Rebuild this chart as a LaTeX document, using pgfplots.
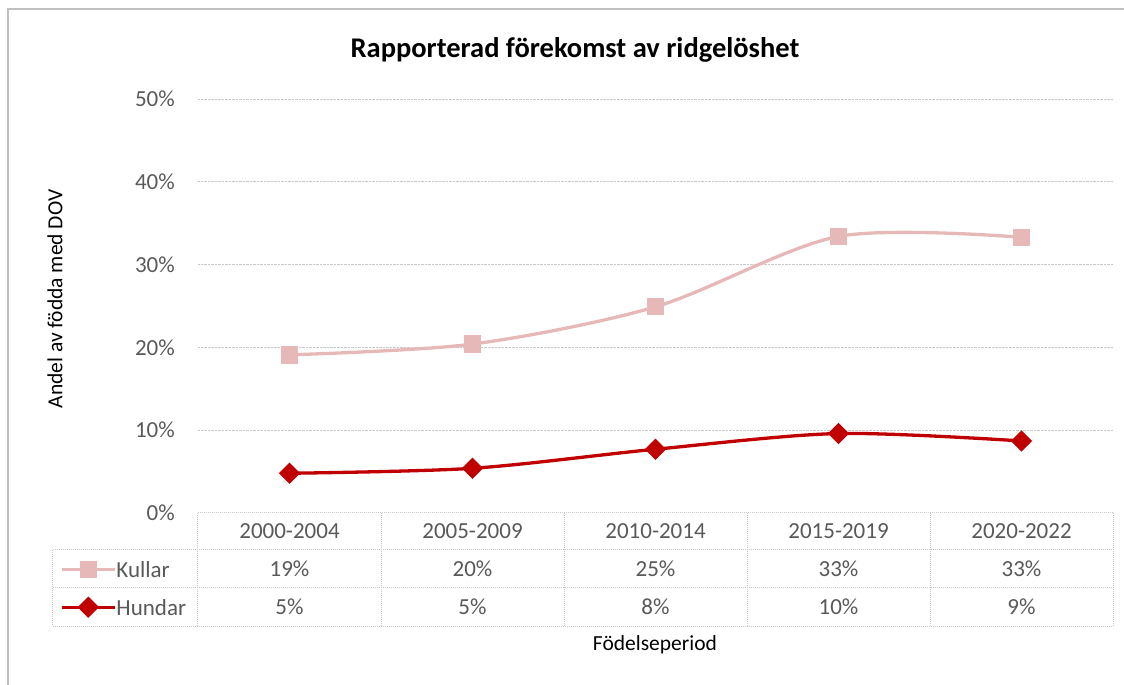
\documentclass[border=0pt]{standalone}
\usepackage{pgfplots}
\pgfplotsset{compat=1.18}
\usepackage{fontspec}
\setmainfont{Carlito}
\definecolor{kullar}{HTML}{E6B9B8}
\definecolor{hundar}{HTML}{C00000}
\definecolor{txt}{HTML}{595959}
\definecolor{gridc}{HTML}{C8C8C8}
\definecolor{frame}{HTML}{C0C0C0}
\newcommand{\tickfont}{\fontsize{23}{27}\selectfont}
\newcommand{\labfont}{\fontsize{21.5}{25}\selectfont}
\newcommand{\titlefont}{\fontsize{28.5}{33}\selectfont\bfseries}
\begin{document}
\begin{tikzpicture}[x=1pt,y=1pt]
% canvas, origin at the lower left corner of the plot area
\path[use as bounding box] (-198,-172) rectangle (926,513);
\draw[frame, line width=1.5pt] (-190,-172) -- (-190,504) -- (926,504);

\begin{axis}[
  at={(0,0)}, anchor=south west,
  scale only axis, width=915pt, height=414pt,
  xmin=-0.5, xmax=4.5, ymin=0, ymax=50,
  axis line style={draw=none},
  xtick=\empty,
  ytick={10,20,30,40,50},
  extra y ticks={0}, extra y tick style={grid=none},
  major tick length=0pt,
  ymajorgrids,
  grid style={gridc, densely dotted, line width=1pt},
  yticklabel={\pgfmathprintnumber{\tick}\%},
  /pgf/number format/assume math mode=true,
  yticklabel style={font=\tickfont, text=txt, inner sep=0pt, xshift=-23pt},
  clip=false,
  legend style={at={(-138pt,-37pt)}, anchor=north west, draw=none, fill=none,
    font=\tickfont, text=txt, inner sep=0pt, row sep=0pt,
    nodes={inner sep=0pt, minimum height=38pt, text depth=0pt}},
  legend cell align=left,
  legend image code/.code={%
    \draw[mark repeat=2, mark phase=2, #1] plot coordinates {(0pt,0pt) (26.5pt,0pt) (53pt,0pt)};},
  /tikz/every even column/.append style={column sep=6pt},
]
\addplot[kullar, line width=3.3pt, smooth, mark=square*,
  mark size=7pt, mark options={draw=none, fill=kullar}]
  coordinates {(0,19.1) (1,20.4) (2,24.9) (3,33.4) (4,33.3)};
\addlegendentry{Kullar}
\addplot[hundar, line width=3.3pt, smooth, mark=square*,
  mark size=5.9pt, mark options={draw=none, fill=hundar, rotate=45}]
  coordinates {(0,4.8) (1,5.4) (2,7.7) (3,9.6) (4,8.7)};
\addlegendentry{Hundar}
\end{axis}

% data table under the plot area
\begin{scope}[gridc, densely dotted, line width=1pt]
  \draw (0,0) -- (915,0);
  \draw (-145,-37) -- (915,-37);
  \draw (-145,-75) -- (915,-75);
  \draw (-145,-113) -- (915,-113);
  \draw (-145,-37) -- (-145,-113);
  \foreach \c in {0,183,366,549,732,915} \draw (\c,0) -- (\c,-113);
\end{scope}
\begin{scope}[every node/.style={font=\tickfont, text=txt, inner sep=0pt}]
  \foreach \lab [count=\i from 0] in {2000-2004,2005-2009,2010-2014,2015-2019,2020-2022}
    \node at (91.5+183*\i,-18.5) {\lab};
  \foreach \v [count=\i from 0] in {19,20,25,33,33}
    \node at (91.5+183*\i,-56) {\v\%};
  \foreach \v [count=\i from 0] in {5,5,8,10,9}
    \node at (91.5+183*\i,-94) {\v\%};
\end{scope}

\node[font=\labfont, inner sep=0pt] at (457,-132) {Födelseperiod};
\node[font=\labfont, inner sep=0pt, rotate=90] at (-143,214) {Andel av födda med DOV};
\node[font=\titlefont, inner sep=0pt] at (377,463) {Rapporterad förekomst av ridgelöshet};
\end{tikzpicture}
\end{document}
